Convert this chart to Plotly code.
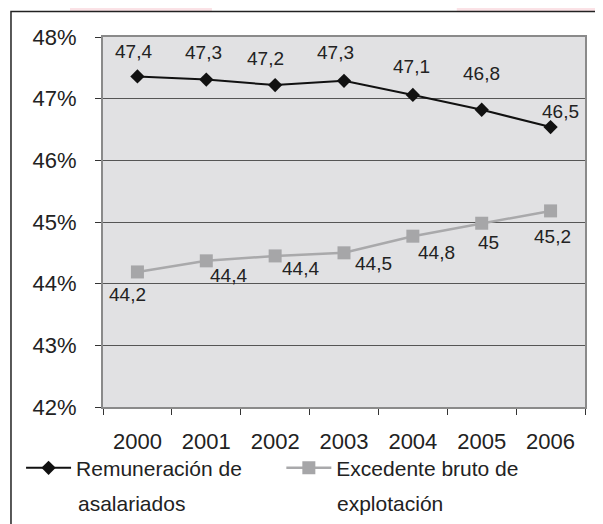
import plotly.graph_objects as go

years = ["2000", "2001", "2002", "2003", "2004", "2005", "2006"]
remuneracion = [47.36, 47.31, 47.22, 47.29, 47.06, 46.82, 46.54]
excedente = [44.19, 44.37, 44.45, 44.50, 44.77, 44.98, 45.18]
remuneracion_labels = ["47,4", "47,3", "47,2", "47,3", "47,1", "46,8", "46,5"]
excedente_labels = ["44,2", "44,4", "44,4", "44,5", "44,8", "45", "45,2"]
series_names = [("Remuneración de", "asalariados"), ("Excedente bruto de", "explotación")]

# hand-placed label offsets (px), as in the original spreadsheet chart
rem_shift = [(-4, 25), (-3, 27), (-10, 27), (-9, 28), (-1, 28), (0, 36), (10, 16)]
exc_shift = [(-10, -23), (22, -15), (25, -13), (29, -11), (24, -16), (7, -19), (2, -26)]

FONT = "Liberation Sans, Arial, sans-serif"
TXT = "#222222"

fig = go.Figure()
fig.add_trace(go.Scatter(x=years, y=remuneracion, mode="lines+markers",
                         name=series_names[0][0], legend="legend",
                         line=dict(color="#111111", width=2),
                         marker=dict(symbol="diamond", size=11, color="#111111")))
fig.add_trace(go.Scatter(x=years, y=excedente, mode="lines+markers",
                         name=series_names[1][0], legend="legend2",
                         line=dict(color="#a9a9ab", width=2.5),
                         marker=dict(symbol="square", size=13, color="#a6a6a8")))

annotations = []
for i, (v, t, (dx, dy)) in enumerate(zip(remuneracion, remuneracion_labels, rem_shift)):
    annotations.append(dict(x=i, y=v, text=t, showarrow=False, xshift=dx, yshift=dy,
                            font=dict(size=19, color=TXT, family=FONT)))
for i, (v, t, (dx, dy)) in enumerate(zip(excedente, excedente_labels, exc_shift)):
    annotations.append(dict(x=i, y=v, text=t, showarrow=False, xshift=dx, yshift=dy,
                            font=dict(size=19, color=TXT, family=FONT)))

# second line of each legend entry (Excel uses a looser line spacing than plotly)
for (first, second), lx in zip(series_names, [-0.056, 0.481]):
    annotations.append(dict(xref="paper", yref="paper", x=lx, y=-0.2595, text=second,
                            xanchor="left", yanchor="middle", showarrow=False,
                            font=dict(size=21, color=TXT, family=FONT)))

shapes = [
    # faint watermark remnants above the frame
    dict(type="rect", xref="paper", yref="paper", x0=-0.0685, x1=0.226, y0=1.0703, y1=1.2,
         fillcolor="#fbe2e6", line_width=0, layer="below"),
    dict(type="rect", xref="paper", yref="paper", x0=0.734, x1=1.05, y0=1.0703, y1=1.2,
         fillcolor="#fbe2e6", line_width=0, layer="below"),
    # outer chart frame
    dict(type="rect", xref="paper", yref="paper", x0=-0.1909, x1=1.2, y0=-0.5, y1=1.0689,
         line=dict(color="#222222", width=1.5), fillcolor="rgba(0,0,0,0)", layer="below"),
]

legend_style = dict(orientation="v", yanchor="top", xanchor="left", valign="top",
                    font=dict(size=21, color=TXT, family=FONT), itemwidth=45,
                    bgcolor="rgba(0,0,0,0)")

# the page body adds an 8px offset, so the figure is shrunk by that amount
fig.update_layout(
    width=595, height=516,
    margin=dict(l=95, r=18, t=29, b=117, autoexpand=False),
    paper_bgcolor="white", plot_bgcolor="#e1e1e3",
    font=dict(family=FONT, color=TXT),
    showlegend=True,
    legend=dict(x=-0.17, y=-0.11, **legend_style),
    legend2=dict(x=0.37, y=-0.11, **legend_style),
    annotations=annotations,
    shapes=shapes,
)
fig.update_xaxes(type="category", range=[-0.5, 6.5], tickson="boundaries",
                 ticks="outside", ticklen=6, tickcolor="#333333",
                 showline=True, linecolor="#8a8a8a", linewidth=2, mirror=True,
                 showgrid=False, tickfont=dict(size=22, color=TXT),
                 ticklabelstandoff=14)
fig.update_yaxes(range=[42, 48], dtick=1, ticksuffix="%",
                 ticks="outside", ticklen=6, tickcolor="#333333",
                 showline=True, linecolor="#8a8a8a", linewidth=2, mirror=True,
                 showgrid=True, gridcolor="#555555", gridwidth=1, zeroline=False,
                 tickfont=dict(size=22, color=TXT), ticklabelstandoff=14)

fig.write_html("out.html")
